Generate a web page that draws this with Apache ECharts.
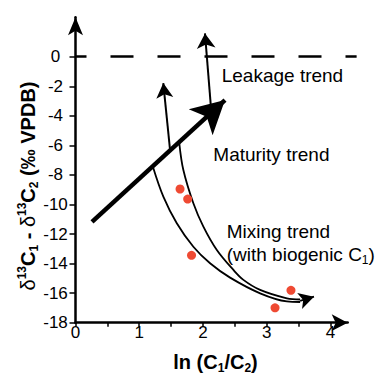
<!DOCTYPE html>
<html lang="en">
<head>
    <meta charset="UTF-8">
    <title>ln(C1/C2) vs δ13C1 - δ13C2</title>
    <script src="https://cdn.jsdelivr.net/npm/echarts@6/dist/echarts.min.js"></script>
    <style>
        *{
            margin:0;
            padding:0;
        }
        html,body{
            height:100%;
            width:100%;
            background:#fff;
        }
        #chart{
            width:389px;
            height:375px;
        }
    </style>
</head>
<body>
    <div id="chart"></div>
    <script>
        // tick values
        var xTickValues=[0,0.5,1,1.5,2,2.5,3,3.5,4];
        var xLabelValues=[0,1,2,3,4];
        var yTickValues=[-18,-16,-14,-12,-10,-8,-6,-4,-2,0];

        // red sample points [ln(C1/C2), d13C1-d13C2]
        var samples=[
            [1.64,-8.95],
            [1.76,-9.63],
            [1.82,-13.44],
            [3.38,-15.81],
            [3.13,-16.99]
        ];

        // mixing curves
        var mixingInner=[
            [1.213,-7.43],[1.378,-9.47],[1.589,-11.27],[1.849,-12.86],[2.111,-13.98],
            [2.425,-14.95],[2.896,-16.01],[3.316,-16.56],[3.524,-16.60]
        ];
        var mixingOuter=[
            [1.628,-5.84],[1.692,-7.67],[1.849,-9.92],[2.006,-11.50],[2.217,-13.08],
            [2.477,-14.43],[2.634,-15.10],[2.896,-15.78],[3.316,-16.35],[3.524,-16.43]
        ];

        // arrows: [from, tip]
        var mixingArrow=[[3.524,-16.52],[3.741,-16.24]];
        var maturityArrow=[[0.259,-11.18],[2.345,-2.93]];
        var upArrow=[[1.485,-6.38],[1.377,-1.78]];
        var leakageArrow=[[2.151,-4.82],[2.031,1.58]];
        var zeroLine=[[0,0],[4.41,0]];

        var font='"Liberation Sans", Arial, Helvetica, sans-serif';

        var myCharts=echarts.init(document.getElementById("chart"),null,{renderer:'svg'});

        function arrowSeries(pts,width,size){
            return {
                type:'lines',
                coordinateSystem:'cartesian2d',
                clip:false,
                symbol:['none','arrow'],
                symbolSize:[0,size],
                lineStyle:{color:'#000',width:width,opacity:1},
                silent:true,
                data:[{coords:pts}]
            };
        }

        var option={
            animation:false,
            grid:{left:75.5,right:41.3,top:17.3,bottom:52.3},
            xAxis:{
                type:'value',
                min:0,
                max:4.27,
                axisLine:{
                    onZero:false,
                    symbol:['none','arrow'],
                    symbolSize:[12.5,16],
                    lineStyle:{color:'#000',width:2.5}
                },
                axisTick:{
                    customValues:xTickValues,
                    length:4,
                    lineStyle:{color:'#000',width:1.5}
                },
                axisLabel:{
                    customValues:xLabelValues,
                    margin:1,
                    color:'#000',
                    fontSize:17,
                    fontFamily:font
                },
                splitLine:{show:false}
            },
            yAxis:{
                type:'value',
                min:-18,
                max:2.67,
                axisLine:{
                    show:true,
                    onZero:false,
                    symbol:['none','arrow'],
                    symbolSize:[11.25,18],
                    lineStyle:{color:'#000',width:2.5}
                },
                axisTick:{
                    show:true,
                    customValues:yTickValues,
                    length:6,
                    lineStyle:{color:'#000',width:1.5}
                },
                axisLabel:{
                    customValues:yTickValues,
                    margin:20,
                    align:'center',
                    color:'#000',
                    fontSize:17,
                    fontFamily:font
                },
                splitLine:{show:false}
            },
            graphic:[
                {
                    type:'text',
                    x:28,
                    y:186,
                    rotation:Math.PI/2,
                    style:{
                        text:'{d|δ}{sup|13}{b|C}{sub|1}{b| - }{d|δ}{sup|13}{b|C}{sub|2}{b| (‰ VPDB)}',
                        align:'center',
                        verticalAlign:'middle',
                        fill:'#000',
                        rich:{
                            b:{fontSize:20,fontWeight:'bold',fontFamily:font,lineHeight:24},
                            d:{fontSize:20,fontFamily:font,lineHeight:24},
                            sup:{fontSize:12,fontWeight:'bold',fontFamily:font,verticalAlign:'top'},
                            sub:{fontSize:12,fontWeight:'bold',fontFamily:font,verticalAlign:'bottom'}
                        }
                    }
                },
                {
                    type:'text',
                    x:215.5,
                    y:362,
                    style:{
                        text:'{b|ln (C}{sub|1}{b|/C}{sub|2}{b|)}',
                        align:'center',
                        verticalAlign:'middle',
                        fill:'#000',
                        rich:{
                            b:{fontSize:20,fontWeight:'bold',fontFamily:font,lineHeight:24},
                            sub:{fontSize:12,fontWeight:'bold',fontFamily:font,verticalAlign:'bottom'}
                        }
                    }
                },
                {
                    type:'text',
                    x:221.7,
                    y:75.5,
                    style:{text:'Leakage trend',font:'19px '+font,fill:'#000',align:'left',verticalAlign:'middle'}
                },
                {
                    type:'text',
                    x:213.3,
                    y:154,
                    style:{text:'Maturity trend',font:'19px '+font,fill:'#000',align:'left',verticalAlign:'middle'}
                },
                {
                    type:'text',
                    x:226.7,
                    y:231,
                    style:{text:'Mixing trend',font:'19px '+font,fill:'#000',align:'left',verticalAlign:'middle'}
                },
                {
                    type:'text',
                    x:226.7,
                    y:254,
                    style:{
                        text:'{n|(with biogenic C}{sub|1}{n|)}',
                        fill:'#000',
                        align:'left',
                        verticalAlign:'middle',
                        rich:{
                            n:{fontSize:19,fontFamily:font,lineHeight:23},
                            sub:{fontSize:12,fontFamily:font,verticalAlign:'bottom'}
                        }
                    }
                }
            ],
            series:[
                {
                    type:'lines',
                    coordinateSystem:'cartesian2d',
                    clip:false,
                    silent:true,
                    symbol:['none','none'],
                    lineStyle:{color:'#000',width:2.5,type:[23,24],dashOffset:12,opacity:1},
                    data:[{coords:zeroLine}]
                },
                {
                    type:'line',
                    data:mixingInner,
                    smooth:0.35,
                    showSymbol:false,
                    symbol:'none',
                    lineStyle:{color:'#000',width:1.8}
                },
                {
                    type:'line',
                    data:mixingOuter,
                    smooth:0.35,
                    showSymbol:false,
                    symbol:'none',
                    lineStyle:{color:'#000',width:1.8}
                },
                arrowSeries(mixingArrow,1.8,[12.7,15]),
                arrowSeries(upArrow,2,[12.75,15]),
                arrowSeries(leakageArrow,2,[14,15]),
                arrowSeries(maturityArrow,4.5,[26.5,33]),
                {
                    type:'scatter',
                    data:samples,
                    symbolSize:9,
                    itemStyle:{color:'#ef4a33',opacity:1},
                    z:5
                }
            ]
        };
        myCharts.setOption(option);
        window.onresize=myCharts.resize;
    </script>
</body>
</html>
